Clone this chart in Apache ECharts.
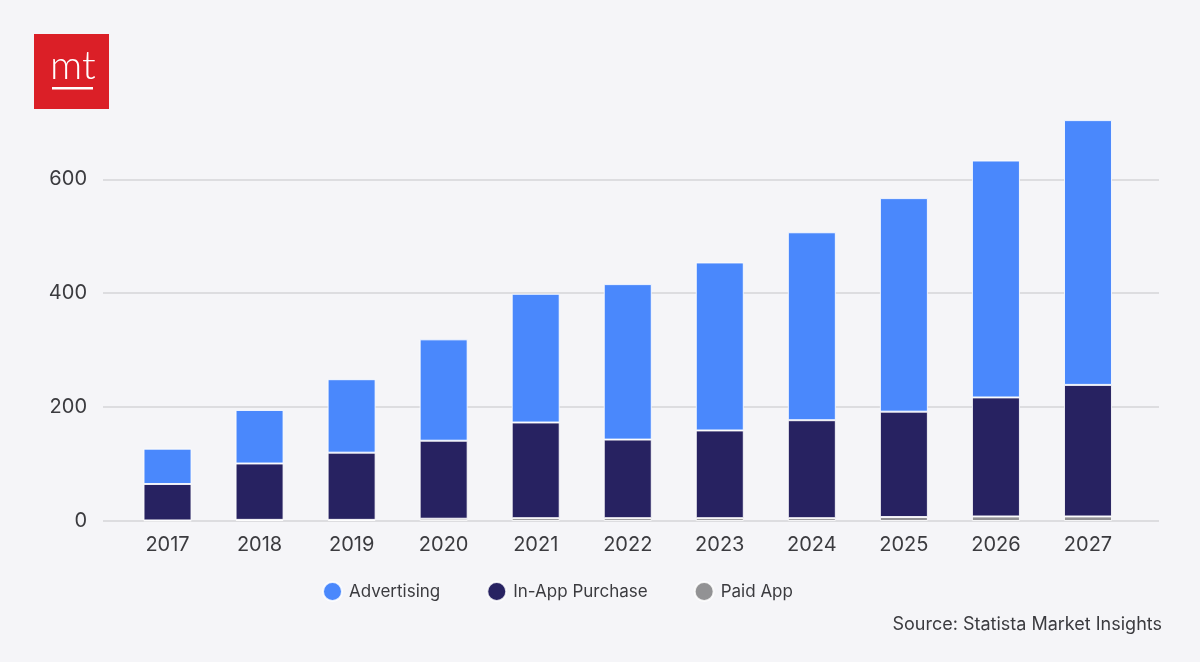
<!DOCTYPE html>
<html>
<head>
<meta charset="utf-8">
<script src="https://cdn.jsdelivr.net/npm/echarts@6/dist/echarts.min.js"></script>
<style>
  html, body { margin: 0; padding: 0; background: #f5f5f8; }
  #chart { width: 1200px; height: 662px; }
</style>
</head>
<body>
<div id="chart"></div>
<script>
const years = ['2017','2018','2019','2020','2021','2022','2023','2024','2025','2026','2027'];
const advertising = [62, 94, 129, 178, 226, 273, 295, 330, 375, 416, 465];
const inAppPurchase = [64, 99, 118, 137, 168, 138, 154, 172, 185, 209, 231];
const paidApp = [1, 2, 2, 4, 5, 5, 5, 5, 7, 8, 8];
const yTicks = [0, 200, 400, 600];

const FONT = 'Inter, "Noto Sans", sans-serif';
const TEXT = '#3b3b3f';
const chart = echarts.init(document.getElementById('chart'), null, { renderer: 'canvas' });

const barStyle = (color) => ({ color: color, borderColor: 'rgba(255,255,255,0.85)', borderWidth: 1 });

chart.setOption({
  backgroundColor: '#f5f5f8',
  animation: false,
  textStyle: { fontFamily: FONT },
  grid: [
    { left: 103, right: 41, top: 111, bottom: 141 },
    { left: 121.5, right: 66, top: 111, bottom: 141 }
  ],
  xAxis: [
    { gridIndex: 0, type: 'value', show: false, min: 0, max: 1 },
    {
      gridIndex: 1, type: 'category', data: years, boundaryGap: true,
      axisLine: { show: false }, axisTick: { show: false },
      axisLabel: { color: TEXT, fontSize: 20, margin: 14, fontFamily: FONT }
    }
  ],
  yAxis: [
    {
      gridIndex: 0, type: 'value', min: 0, max: 720, interval: 200,
      axisLine: { show: false }, axisTick: { show: false },
      axisLabel: {
        color: TEXT, fontSize: 20, margin: 16, fontFamily: FONT, showMaxLabel: false,
        formatter: (v) => (yTicks.indexOf(v) >= 0 ? String(v) : '')
      },
      splitLine: {
        show: true, showMaxLine: false,
        lineStyle: { color: ['#d5d5d9', '#d5d5d9', '#d5d5d9', '#d5d5d9', 'rgba(0,0,0,0)'], width: 1.5 }
      }
    },
    { gridIndex: 1, type: 'value', min: 0, max: 720, show: false, splitLine: { show: false } }
  ],
  legend: {
    data: ['Advertising', 'In-App Purchase', 'Paid App'],
    left: 322, top: 581, icon: 'circle', itemWidth: 19, itemHeight: 19, itemGap: 46, padding: 0,
    textStyle: { color: TEXT, fontSize: 17, fontFamily: FONT, padding: [0, 0, 0, 2] }
  },
  series: [
    { name: 'Paid App', type: 'bar', stack: 'total', xAxisIndex: 1, yAxisIndex: 1, barWidth: 48,
      data: paidApp, itemStyle: barStyle('#929294') },
    { name: 'In-App Purchase', type: 'bar', stack: 'total', xAxisIndex: 1, yAxisIndex: 1, barWidth: 48,
      data: inAppPurchase, itemStyle: barStyle('#272261') },
    { name: 'Advertising', type: 'bar', stack: 'total', xAxisIndex: 1, yAxisIndex: 1, barWidth: 48,
      data: advertising, itemStyle: barStyle('#4a88fc') }
  ],
  graphic: [
    { type: 'rect', left: 34, top: 34, shape: { width: 75, height: 75 }, style: { fill: '#db1f27' } },
    { type: 'text', left: 50, top: 46, style: { text: 'mt', fill: '#ffffff', font: '300 40px Lato, "Noto Sans", sans-serif' } },
    { type: 'rect', left: 52, top: 87, shape: { width: 41, height: 2.5 }, style: { fill: '#ffffff' } },
    { type: 'text', right: 38, top: 616, style: { text: 'Source: Statista Market Insights', fill: TEXT, font: '18px ' + FONT } }
  ]
});
</script>
</body>
</html>
